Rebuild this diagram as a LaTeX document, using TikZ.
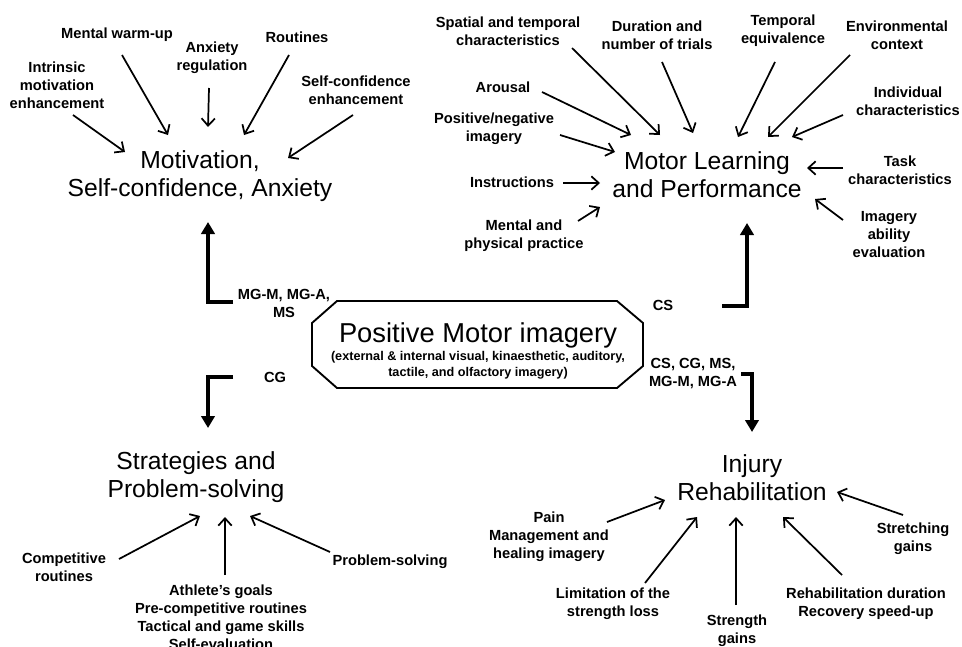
\documentclass[tikz,border=0pt]{standalone}
\usepackage{fontspec}
\setmainfont{Liberation Sans}
\usetikzlibrary{arrows.meta}

\tikzset{
  lbl/.style={font=\fontsize{11}{13.5}\selectfont\bfseries, align=center, inner sep=1pt},
  ttl/.style={font=\fontsize{18.5}{21}\selectfont, align=center, inner sep=0pt},
  arr/.style={line width=1.3pt, -{Straight Barb[length=5.5pt,width=10pt]}},
  elbow/.style={line width=2.6pt, -{Triangle[length=9pt,width=10pt]}},
}

\begin{document}
\begin{tikzpicture}[x=0.75pt,y=-0.75pt]
          \useasboundingbox (0,0) rectangle (962,646);
          % motivation
          \node[ttl] (mot) at (200,176) {Motivation,\\Self-confidence, Anxiety};
          \node[lbl] (intr) at (57,85) {Intrinsic\\motivation\\enhancement};
          \node[lbl] (mwu) at (117,35) {Mental warm-up};
          \node[lbl] (anx) at (212,58) {Anxiety\\regulation};
          \node[lbl] (rout) at (297,37) {Routines};
          \node[lbl] (selfc) at (356,90) {Self-confidence\\enhancement};
          \draw[arr] ([shift={(16,30)}]intr.center) -- ([shift={(-75,-24)}]mot.center);
          \draw[arr] ([shift={(5,20)}]mwu.center) -- ([shift={(-32,-41)}]mot.center);
          \draw[arr] ([shift={(-3,30)}]anx.center) -- ([shift={(8,-49)}]mot.center);
          \draw[arr] ([shift={(-8,18)}]rout.center) -- ([shift={(44,-41)}]mot.center);
          \draw[arr] ([shift={(-3,25)}]selfc.center) -- ([shift={(88,-18)}]mot.center);
          % motor learning
          \node[ttl] (mlp) at (707,175) {Motor Learning\\and Performance};
          \node[lbl] (spat) at (508,31) {Spatial and temporal\\characteristics};
          \node[lbl] (dur) at (657,35) {Duration and\\number of trials};
          \node[lbl] (temp) at (783,31) {Temporal\\equivalence};
          \node[lbl] (env) at (897,35) {Environmental\\context};
          \node[lbl] (arou) at (503,87) {Arousal};
          \node[lbl] (indiv) at (908,101) {Individual\\characteristics};
          \node[lbl] (posneg) at (494,129) {Positive/negative\\imagery};
          \node[lbl] (instr) at (512,182) {Instructions};
          \node[lbl] (task) at (900,170) {Task\\characteristics};
          \node[lbl] (menphys) at (524,236) {Mental and\\physical practice};
          \node[lbl] (imab) at (889,235) {Imagery\\ability\\evaluation};
          \draw[arr] ([shift={(64,17)}]spat.center) -- ([shift={(-47,-40)}]mlp.center);
          \draw[arr] ([shift={(5,27)}]dur.center) -- ([shift={(-14,-42)}]mlp.center);
          \draw[arr] ([shift={(-8,31)}]temp.center) -- ([shift={(31,-38)}]mlp.center);
          \draw[arr] ([shift={(-47,20)}]env.center) -- ([shift={(61,-38)}]mlp.center);
          \draw[arr] ([shift={(-65,14)}]indiv.center) -- ([shift={(85,-38)}]mlp.center);
          \draw[arr] ([shift={(39,5)}]arou.center) -- ([shift={(-76,-40)}]mlp.center);
          \draw[arr] ([shift={(66,6)}]posneg.center) -- ([shift={(-92,-23)}]mlp.center);
          \draw[arr] ([shift={(51,1)}]instr.center) -- ([shift={(-107,8)}]mlp.center);
          \draw[arr] ([shift={(54,-15)}]menphys.center) -- ([shift={(-107,32)}]mlp.center);
          \draw[arr] ([shift={(-57,-2)}]task.center) -- ([shift={(100,-7)}]mlp.center);
          \draw[arr] ([shift={(-46,-15)}]imab.center) -- ([shift={(108,24)}]mlp.center);
          % centre
          \node[align=center, inner sep=0pt] (pmi) at (478,351)
            {\fontsize{20.5}{24}\selectfont Positive Motor imagery\\[1pt]
             \fontsize{9.5}{11}\selectfont\bfseries (external \& internal visual, kinaesthetic, auditory,\\
             \fontsize{9.5}{11}\selectfont\bfseries tactile, and olfactory imagery)};
          \draw[line width=1.4pt] ([shift={(-141,-50)}]pmi.center) -- ++(280,0) -- ++(26,22)
            -- ++(0,43) -- ++(-26,22) -- ++(-280,0) -- ++(-25,-22) -- ++(0,-43) -- cycle;
          \node[lbl] (mgl) at (284,303) {MG-M, MG-A,\\MS};
          \node[lbl] (csl) at (663,305) {CS};
          \node[lbl] (cgl) at (275,377) {CG};
          \node[lbl] (alll) at (693,374) {CS, CG, MS,\\MG-M, MG-A};
          \coordinate (mgs) at (233,302);
          \coordinate (css) at (722,306);
          \coordinate (cgs) at (233,377);
          \coordinate (alls) at (741,374);
          % strategies
          \node[ttl] (strat) at (196,477) {Strategies and\\Problem-solving};
          \node[lbl] (comp) at (64,567) {Competitive\\routines};
          \node[lbl] (goals) at (221,617) {Athlete's goals\\Pre-competitive routines\\Tactical and game skills\\Self-evaluation};
          \node[lbl] (probs) at (390,562) {Problem-solving};
          \draw[arr] ([shift={(55,-8)}]comp.center) -- ([shift={(4,39)}]strat.center);
          \draw[arr] ([shift={(4,-42)}]goals.center) -- ([shift={(29,40)}]strat.center);
          \draw[arr] ([shift={(-60,-10)}]probs.center) -- ([shift={(54,39)}]strat.center);
          % injury
          \node[ttl] (inj) at (752,478) {Injury\\Rehabilitation};
          \node[lbl] (pain) at (549,537) {Pain\\Management and\\healing imagery};
          \node[lbl] (lim) at (613,604) {Limitation of the\\strength loss};
          \node[lbl] (strg) at (737,631) {Strength\\gains};
          \node[lbl] (rdur) at (866,604) {Rehabilitation duration\\Recovery speed-up};
          \node[lbl] (strch) at (913,539) {Stretching\\gains};
          \draw[arr] ([shift={(58,-15)}]pain.center) -- ([shift={(-87,22)}]inj.center);
          \draw[arr] ([shift={(32,-21)}]lim.center) -- ([shift={(-55,39)}]inj.center);
          \draw[arr] ([shift={(-1,-26)}]strg.center) -- ([shift={(-16,39)}]inj.center);
          \draw[arr] ([shift={(-24,-29)}]rdur.center) -- ([shift={(31,39)}]inj.center);
          \draw[arr] ([shift={(-10,-24)}]strch.center) -- ([shift={(85,14)}]inj.center);
          % thick links
          \draw[elbow] (mgs) -| ([shift={(8,46)}]mot.center);
          \draw[elbow] (css) -| ([shift={(40,48)}]mlp.center);
          \draw[elbow] (cgs) -| ([shift={(12,-49)}]strat.center);
          \draw[elbow] (alls) -| ([shift={(0,-46)}]inj.center);
        \end{tikzpicture}
\end{document}
